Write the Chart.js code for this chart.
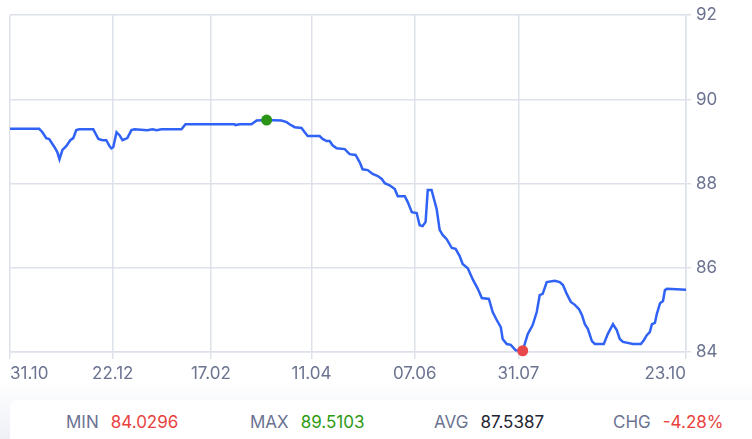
<!DOCTYPE html>
<html>
<head>
<meta charset="utf-8">
<script src="https://cdn.jsdelivr.net/npm/chart.js@4"></script>
<style>
  html, body { margin: 0; padding: 0; background: #fff; }
  body { width: 752px; height: 439px; position: relative; overflow: hidden; font-family: Inter, "Noto Sans", sans-serif; }
  #wrap { position: absolute; left: 0; top: 0; width: 752px; height: 394px; }
  #foot { position: absolute; left: 0; top: 382px; width: 752px; height: 57px; background: linear-gradient(rgba(255,255,255,0), #eef0f6); }
  #card { position: absolute; left: 10px; top: 18px; right: -10px; bottom: -10px; background: #fff; border-radius: 8px; }
  .st { position: absolute; top: 12px; font-size: 17px; white-space: nowrap; }
  .lb { color: #6b7391; }
  .vl { margin-left: 12px; }
</style>
</head>
<body>
<div id="wrap"><canvas id="grafico"></canvas></div>
<div id="foot">
  <div id="card">
    <div class="st" style="left:56px"><span class="lb">MIN</span><span class="vl" style="color:#e8423e">84.0296</span></div>
    <div class="st" style="left:240px"><span class="lb">MAX</span><span class="vl" style="color:#2e9a12">89.5103</span></div>
    <div class="st" style="left:424px"><span class="lb">AVG</span><span class="vl" style="color:#1f2533">87.5387</span></div>
    <div class="st" style="left:603px"><span class="lb">CHG</span><span class="vl" style="color:#e8423e">-4.28%</span></div>
  </div>
</div>
<script>
// posiciones (dias de cotizacion desde 31.10) y valores
const dias = [0, 10.8, 12.0, 13.4, 14.5, 16.4, 17.5, 18.3, 19.4, 20.8, 22.3, 23.4, 24.5, 25.6, 30.8, 32.7,
  34.2, 35.6, 36.8, 37.5, 38.2, 39.4, 40.5, 41.6, 43.4, 44.9, 46.0, 50.8, 52.7, 54.2, 56.0, 63.4,
  64.9, 83.0, 83.4, 84.9, 89.3, 91.2, 94.9, 100.4, 102.3, 103.4, 105.3, 107.8, 109.0, 110.1, 114.5,
  115.6, 117.1, 118.2, 119.3, 120.8, 123.8, 125.6, 127.8, 129.3, 130.4, 132.3, 134.1, 136.0, 137.5,
  138.6, 140.4, 142.3, 143.4, 146.0, 147.1, 148.6, 150.4, 151.5, 152.6, 153.7, 154.5, 155.9, 157.8,
  158.9, 160.0, 161.5, 163.4, 164.8, 166.3, 167.4, 169.3, 171.1, 173.0, 174.5, 177.1, 178.5, 180.0,
  181.5, 182.2, 183.7, 185.2, 187.0, 189.6, 191.5, 193.3, 194.8, 195.9, 197.0, 198.5, 201.5, 203.3,
  204.5, 205.9, 207.4, 208.9, 210.4, 211.5, 212.6, 213.7, 215.2, 216.3, 219.6, 221.1, 223.0, 224.4,
  225.5, 226.7, 230.4, 233.3, 234.4, 235.5, 236.6, 237.4, 238.5, 239.2, 240.4, 241.5, 242.2, 243.0, 250];
const valores = [89.30, 89.30, 89.22, 89.08, 89.06, 88.87, 88.75, 88.58, 88.80, 88.89, 89.03, 89.08, 89.27, 89.29, 89.29, 89.06,
  89.03, 89.03, 88.89, 88.84, 88.87, 89.22, 89.15, 89.03, 89.08, 89.27, 89.29, 89.27, 89.29, 89.27, 89.29, 89.29,
  89.41, 89.41, 89.39, 89.41, 89.41, 89.50, 89.5103, 89.50, 89.46, 89.41, 89.34, 89.32, 89.22, 89.13, 89.13,
  89.06, 89.01, 89.01, 88.91, 88.84, 88.82, 88.70, 88.68, 88.51, 88.34, 88.32, 88.23, 88.18, 88.11,
  88.01, 87.96, 87.87, 87.70, 87.70, 87.56, 87.32, 87.30, 87.01, 86.99, 87.09, 87.85, 87.85, 87.39,
  86.90, 86.78, 86.68, 86.47, 86.45, 86.28, 86.09, 85.99, 85.73, 85.50, 85.28, 85.26, 84.95, 84.76,
  84.59, 84.31, 84.19, 84.17, 84.04, 84.0296, 84.43, 84.64, 84.95, 85.35, 85.38, 85.66, 85.69, 85.66,
  85.59, 85.38, 85.19, 85.12, 85.02, 84.88, 84.66, 84.55, 84.26, 84.19, 84.19, 84.43, 84.66, 84.52,
  84.31, 84.24, 84.19, 84.19, 84.28, 84.40, 84.47, 84.66, 84.69, 84.90, 85.16, 85.21, 85.47, 85.50, 85.48];
const marcas = [0, 38, 74.3, 111.5, 149.7, 188, 250];
const etiquetas = ["31.10", "22.12", "17.02", "11.04", "07.06", "31.07", "23.10"];
const yTicks = [84, 86, 88, 90, 92];

const iMax = valores.indexOf(Math.max(...valores));
const iMin = valores.indexOf(Math.min(...valores));
const puntos = dias.map(function(d, i) { return {x: d, y: valores[i]}; });

Chart.defaults.font.family = "Inter, 'Noto Sans', sans-serif";
Chart.defaults.font.size = 17;
Chart.defaults.color = "#6b7391";

const grid = "#dde1ea";

new Chart(document.getElementById("grafico"), {
  type: "line",
  data: {
    datasets: [{
      data: puntos,
      borderColor: "#2f62f5",
      borderWidth: 2.5,
      tension: 0,
      fill: false,
      clip: false,
      pointRadius: function(c) { return (c.dataIndex === iMax || c.dataIndex === iMin) ? 5.5 : 0; },
      pointHoverRadius: 0,
      pointBorderWidth: 0,
      pointBackgroundColor: function(c) { return c.dataIndex === iMax ? "#2a9416" : "#e8484a"; },
      pointBorderColor: "rgba(0,0,0,0)"
    }]
  },
  options: {
    responsive: true,
    maintainAspectRatio: false,
    animation: false,
    events: [],
    layout: { padding: { top: 13, left: 10, right: 0, bottom: 0 } },
    plugins: { legend: { display: false }, tooltip: { enabled: false } },
    scales: {
      x: {
        type: "linear",
        min: 0,
        max: 250,
        afterBuildTicks: function(s) { s.ticks = marcas.map(function(v) { return {value: v}; }); },
        afterFit: function(s) { s.height = 42; },
        grid: { color: grid, lineWidth: 1.5, tickLength: 7, tickColor: grid },
        border: { display: true, color: grid, width: 1.5 },
        ticks: {
          autoSkip: false,
          maxRotation: 0,
          align: "inner",
          padding: 5,
          callback: function(v, i) { return etiquetas[i]; }
        }
      },
      y: {
        position: "right",
        min: 84,
        max: 92,
        afterBuildTicks: function(s) { s.ticks = yTicks.map(function(v) { return {value: v}; }); },
        afterFit: function(s) { s.width = 66; },
        grid: { color: grid, lineWidth: 1.5, tickLength: 5, tickColor: grid },
        border: { display: true, color: grid, width: 1.5 },
        ticks: { padding: 5 }
      }
    }
  }
});
</script>
</body>
</html>
